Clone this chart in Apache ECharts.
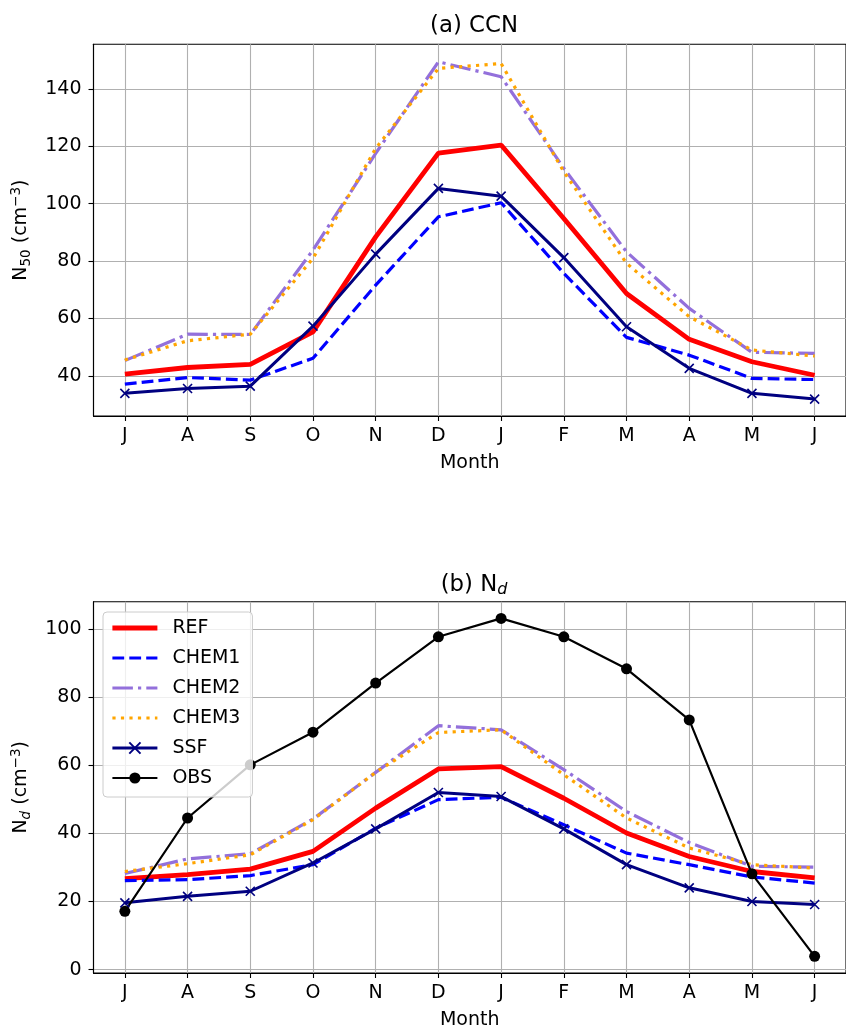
<!DOCTYPE html>
<html>
<head>
<meta charset="utf-8">
<script src="https://cdn.jsdelivr.net/npm/echarts@6/dist/echarts.min.js"></script>
<style>
  html, body { margin: 0; padding: 0; background: #fff; }
  #chart { width: 846px; height: 1031px; }
</style>
</head>
<body>
<div id="chart"></div>
<script>
const months = ['J', 'A', 'S', 'O', 'N', 'D', 'J', 'F', 'M', 'A', 'M', 'J'];

// panel (a) CCN, N50 in cm-3
const ccnRef = [40.6, 42.9, 44.0, 55.3, 88.4, 117.6, 120.4, 94.8, 68.7, 52.7, 44.9, 40.2];
const ccnChem1 = [37.1, 39.4, 38.5, 46.1, 71.6, 95.4, 100.3, 75.7, 53.4, 47.2, 39.1, 38.7];
const ccnChem2 = [45.3, 54.5, 54.4, 83.8, 117.5, 149.4, 144.2, 112.3, 83.2, 63.5, 48.2, 47.8];
const ccnChem3 = [45.5, 52.2, 54.5, 80.9, 119.2, 147.1, 148.8, 111.1, 79.2, 60.6, 49.0, 46.9];
const ccnSsf = [33.9, 35.6, 36.4, 57.3, 82.4, 105.3, 102.6, 81.2, 57.1, 42.6, 33.9, 31.9];

// panel (b) Nd in cm-3
const ndRef = [26.7, 27.9, 29.5, 34.7, 47.4, 58.9, 59.6, 50.3, 40.1, 33.2, 28.8, 26.9];
const ndChem1 = [26.1, 26.4, 27.6, 30.8, 41.5, 49.9, 50.6, 42.5, 34.2, 30.8, 27.2, 25.4];
const ndChem2 = [28.2, 32.5, 34.0, 44.2, 57.9, 71.6, 70.4, 58.7, 46.4, 37.3, 30.3, 30.1];
const ndChem3 = [28.8, 31.1, 33.7, 44.0, 57.9, 69.6, 70.4, 57.2, 44.5, 35.7, 30.8, 29.8];
const ndSsf = [19.6, 21.5, 23.0, 31.3, 41.3, 52.0, 50.8, 41.3, 30.8, 24.0, 20.0, 19.1];
const ndObs = [17.1, 44.5, 60.1, 69.7, 84.1, 97.7, 103.1, 97.7, 88.3, 73.3, 28.1, 3.9];

const ccnTicks = [40, 60, 80, 100, 120, 140];
const ndTicks = [0, 20, 40, 60, 80, 100];
const monthIdx = months.map((m, i) => i);
const legendNames = ['REF', 'CHEM1', 'CHEM2', 'CHEM3', 'SSF', 'OBS'];

const FONT = '"DejaVu Sans", sans-serif';
const crossSymbol = 'path://M0,0L10,10M10,0L0,10';

const pairs = arr => arr.map((v, i) => [i, v]);

const styles = {
  REF: { color: '#ff0000', width: 4.8, type: 'solid', symbol: 'none' },
  CHEM1: { color: '#0000ff', width: 3.2, type: [11.8, 5.1], symbol: 'none' },
  CHEM2: { color: '#9370db', width: 3.2, type: [20.5, 5.1, 3.2, 5.1], symbol: 'none' },
  CHEM3: { color: '#ffa500', width: 3.2, type: [3.2, 5.3], symbol: 'none' },
  SSF: { color: '#000080', width: 3, type: 'solid', symbol: crossSymbol, size: 9 },
  OBS: { color: '#000000', width: 2.2, type: 'solid', symbol: 'circle', size: 11 }
};

function makeSeries(name, data, idx) {
  const s = styles[name];
  const o = {
    name: name,
    type: 'line',
    xAxisIndex: idx,
    yAxisIndex: idx,
    data: pairs(data),
    symbol: s.symbol,
    symbolSize: s.size || 0,
    showSymbol: s.symbol !== 'none',
    lineStyle: { color: s.color, width: s.width, type: s.type, cap: 'butt' },
    itemStyle: { color: s.color },
    emphasis: { disabled: true },
    z: 3
  };
  if (name === 'SSF') {
    o.itemStyle = { color: 'none', borderColor: s.color, borderWidth: 1.6 };
  }
  if (name === 'OBS') o.itemStyle = { color: s.color, borderWidth: 0 };
  return o;
}

// legend entries: line only for the plain lines, marker kept for SSF/OBS
const legendData = legendNames.map(name => {
  const s = styles[name];
  const item = {
    name: name,
    lineStyle: { color: s.color, width: s.width, type: s.type, cap: 'butt' }
  };
  if (s.symbol === 'none') item.itemStyle = { opacity: 0, color: 'transparent', borderWidth: 0 };
  return item;
});

function xAxisFor(idx) {
  return {
    type: 'value',
    gridIndex: idx,
    min: -0.5,
    max: 11.5,
    name: 'Month',
    nameLocation: 'middle',
    nameGap: 38,
    nameTextStyle: { fontFamily: FONT, fontSize: 19, color: '#000' },
    axisLine: { show: true, onZero: false, lineStyle: { color: '#000', width: 1.1 } },
    axisTick: { show: true, length: 5, customValues: monthIdx, lineStyle: { color: '#000', width: 1.1 } },
    axisLabel: {
      customValues: monthIdx,
      margin: 11,
      fontFamily: FONT, fontSize: 19, color: '#000',
      formatter: v => months[Math.round(v)]
    },
    splitLine: { show: true, lineStyle: { color: '#b0b0b0', width: 1.1 } }
  };
}

function yAxisFor(idx, min, max, ticks, name) {
  return {
    type: 'value',
    gridIndex: idx,
    min: min,
    max: max,
    name: name,
    nameLocation: 'middle',
    nameRotate: 90,
    nameGap: 60,
    nameTextStyle: {
      fontFamily: FONT, fontSize: 19, color: '#000',
      rich: {
        n: { fontFamily: FONT, fontSize: 19, color: '#000', lineHeight: 24 },
        sub: { fontFamily: FONT, fontSize: 13.5, color: '#000', verticalAlign: 'bottom' },
        subi: { fontFamily: FONT, fontSize: 13.5, color: '#000', fontStyle: 'italic', verticalAlign: 'bottom' },
        sup: { fontFamily: FONT, fontSize: 13.5, color: '#000', verticalAlign: 'top' }
      }
    },
    axisLine: { show: true, onZero: false, lineStyle: { color: '#000', width: 1.1 } },
    axisTick: { show: true, length: 5, customValues: ticks, lineStyle: { color: '#000', width: 1.1 } },
    axisLabel: { customValues: ticks, margin: 12, fontFamily: FONT, fontSize: 19, color: '#000' },
    splitLine: { show: true, lineStyle: { color: '#b0b0b0', width: 1.1 } }
  };
}

const titleRich = {
  n: { fontFamily: FONT, fontSize: 22.8, fontWeight: 'normal', color: '#000', lineHeight: 26 },
  subi: { fontFamily: FONT, fontSize: 16, fontWeight: 'normal', color: '#000', fontStyle: 'italic', verticalAlign: 'bottom' }
};

const chart = echarts.init(document.getElementById('chart'), null, { renderer: 'canvas' });

const option = {
  animation: false,
  backgroundColor: '#fff',
  title: [
    {
      text: '{n|(a) CCN}',
      left: 474, top: 13, textAlign: 'center', padding: 0,
      textStyle: { fontWeight: 'normal', rich: titleRich }
    },
    {
      text: '{n|(b) N}{subi|d}',
      left: 474, top: 572, textAlign: 'center', padding: 0,
      textStyle: { fontWeight: 'normal', rich: titleRich }
    }
  ],
  legend: {
    data: legendData,
    orient: 'vertical',
    left: 103,
    top: 612,
    itemWidth: 45,
    itemHeight: 14,
    itemGap: 10,
    padding: [6, 12, 9, 7],
    backgroundColor: 'rgba(255,255,255,0.8)',
    borderColor: '#cccccc',
    borderWidth: 1,
    borderRadius: 4,
    selectedMode: false,
    textStyle: { fontFamily: FONT, fontSize: 19, color: '#000', lineHeight: 20, padding: [0, 0, 0, 10] }
  },
  grid: [
    { left: 93.5, top: 44.3, width: 761, height: 371.7, show: true, borderColor: '#000', borderWidth: 1.1 },
    { left: 93.5, top: 601.7, width: 761, height: 371.6, show: true, borderColor: '#000', borderWidth: 1.1 }
  ],
  xAxis: [xAxisFor(0), xAxisFor(1)],
  yAxis: [
    yAxisFor(0, 26, 155.5, ccnTicks, '{n|N}{sub|50}{n| (cm}{sup|−3}{n|)}'),
    yAxisFor(1, -1, 108, ndTicks, '{n|N}{subi|d}{n| (cm}{sup|−3}{n|)}')
  ],
  series: [
    makeSeries('REF', ccnRef, 0),
    makeSeries('CHEM1', ccnChem1, 0),
    makeSeries('CHEM2', ccnChem2, 0),
    makeSeries('CHEM3', ccnChem3, 0),
    makeSeries('SSF', ccnSsf, 0),
    makeSeries('REF', ndRef, 1),
    makeSeries('CHEM1', ndChem1, 1),
    makeSeries('CHEM2', ndChem2, 1),
    makeSeries('CHEM3', ndChem3, 1),
    makeSeries('SSF', ndSsf, 1),
    makeSeries('OBS', ndObs, 1)
  ]
};

chart.setOption(option);
window.addEventListener('resize', () => chart.resize());
</script>
</body>
</html>
